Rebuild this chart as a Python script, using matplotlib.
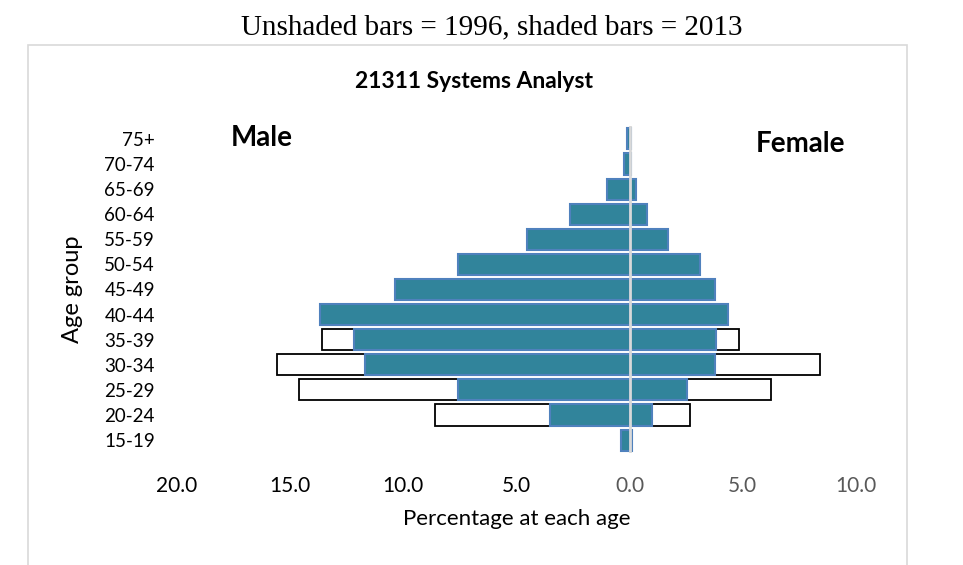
import matplotlib.pyplot as plt
import matplotlib.patches as patches
from matplotlib.transforms import Bbox
import numpy as np

plt.rcParams['font.family'] = ['Lato', 'DejaVu Sans']

AGE_GROUPS = ["75+", "70-74", "65-69", "60-64", "55-59", "50-54", "45-49",
              "40-44", "35-39", "30-34", "25-29", "20-24", "15-19"]

# percentages at each age
MALE_1996 = [0.0, 0.05, 0.1, 0.4, 1.35, 3.2, 6.3, 9.8, 13.6, 15.6, 14.6, 8.6, 0.2]
FEMALE_1996 = [0.0, 0.0, 0.05, 0.15, 0.45, 0.6, 2.25, 3.2, 4.85, 8.4, 6.25, 2.65, 0.05]
MALE_2013 = [0.12, 0.25, 1.0, 2.65, 4.55, 7.6, 10.35, 13.7, 12.2, 11.7, 7.6, 3.5, 0.4]
FEMALE_2013 = [0.05, 0.08, 0.3, 0.75, 1.7, 3.1, 3.75, 4.35, 3.8, 3.75, 2.55, 1.0, 0.1]

X_TICKS = [-20, -15, -10, -5, 0, 5, 10]
X_TICK_LABELS = ["20.0", "15.0", "10.0", "5.0", "0.0", "5.0", "10.0"]

W, H = 963, 565
fig = plt.figure(figsize=(W / 100, H / 100), dpi=100)

# light grey chart frame like the Excel chart area
fig.patches.append(patches.Rectangle((28 / W, -0.05), (907 - 28) / W, 1 - 45 / H + 0.05,
                                     transform=fig.transFigure, fill=False,
                                     edgecolor="#D9D9D9", linewidth=1.2))

ax = fig.add_axes([177 / W, 1 - 452.6 / H, (856 - 177) / W, (452.6 - 126.4) / H])

y = np.arange(len(AGE_GROUPS))[::-1]
h = 0.84

# 1996: unshaded
ax.barh(y, -np.array(MALE_1996), height=h, color="white", edgecolor="black", linewidth=1.3, zorder=1)
ax.barh(y, FEMALE_1996, height=h, color="white", edgecolor="black", linewidth=1.3, zorder=1)

# 2013: shaded
ax.barh(y, -np.array(MALE_2013), height=h, color="#31849B", edgecolor="#4F81BD", linewidth=1.5, zorder=2)
ax.barh(y, FEMALE_2013, height=h, color="#31849B", edgecolor="#4F81BD", linewidth=1.5, zorder=2)

ax.axvline(0, color="#D9D9D9", linewidth=2, zorder=3)

ax.set_xlim(-20, 10)
ax.set_ylim(-0.5, len(AGE_GROUPS) - 0.5)

ax.set_xticks(X_TICKS)
ax.set_xticklabels(X_TICK_LABELS, fontsize=15)
for lab, v in zip(ax.get_xticklabels(), X_TICKS):
    lab.set_color("black" if v < 0 else "#595959")

ax.set_yticks(y)
ax.set_yticklabels(AGE_GROUPS, fontsize=13.5)
ax.tick_params(axis="y", length=0, pad=16)
ax.tick_params(axis="x", length=0, pad=17)

for s in ax.spines.values():
    s.set_visible(False)

ax.set_xlabel("Percentage at each age", fontsize=16, labelpad=9)
ax.set_ylabel("Age group", fontsize=17, labelpad=2)
ax.yaxis.set_label_coords(-94 / (856 - 177), 0.5)

# "Male" is cut off at the bottom in the original
male = fig.text(262 / W, 1 - 146 / H, "Male", fontsize=20, fontweight="bold",
                ha="center", va="baseline")
male.set_clip_box(Bbox.from_extents(0, H - 146, W, H))
male.set_clip_on(True)
fig.text(800 / W, 1 - 152 / H, "Female", fontsize=20, fontweight="bold",
         ha="center", va="baseline")

fig.text(474 / W, 1 - 81 / H, "21311 Systems Analyst", fontsize=16.5, fontweight="bold",
         ha="center", va="center")
fig.text(492 / W, 1 - 27 / H, "Unshaded bars = 1996, shaded bars = 2013",
         family="Liberation Serif", fontsize=21, ha="center", va="center")

fig.savefig("out.png", dpi=100)
